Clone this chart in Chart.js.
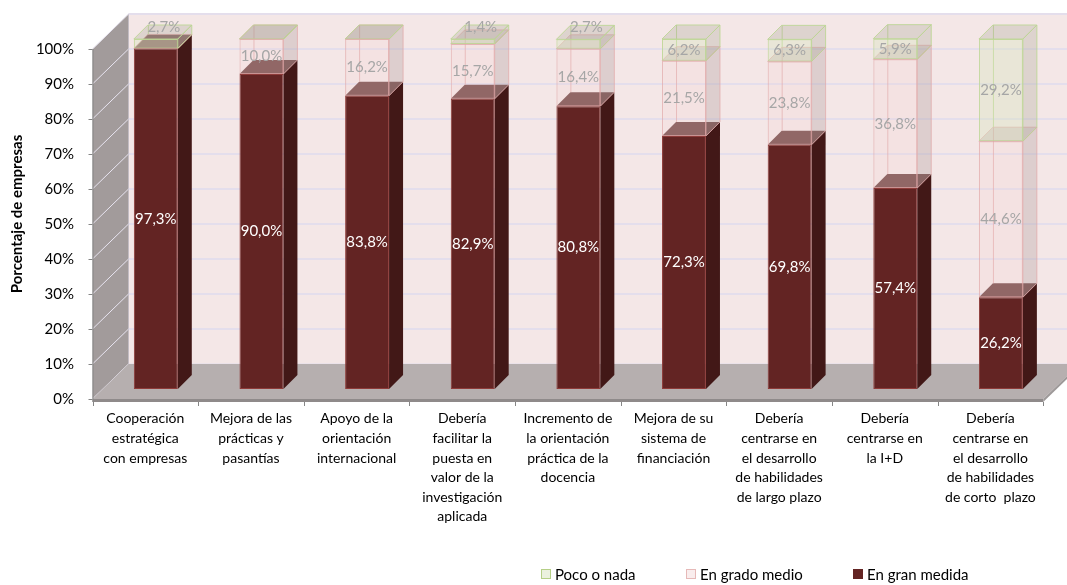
<!DOCTYPE html>
<html>
<head>
<meta charset="utf-8">
<script src="https://cdn.jsdelivr.net/npm/chart.js@4"></script>
<style>
  body { margin: 0; background: #fff; }
  #wrap { position: relative; width: 1067px; height: 585px; }
  #legend { position: absolute; left: 541px; top: 565px; display: flex; font: 15px Lato, sans-serif; color: #000; }
  #legend .item { display: flex; align-items: center; }
  #legend .box { width: 8px; height: 8px; margin-right: 4px; border: 1px solid; box-sizing: content-box; }
</style>
</head>
<body>
<div id="wrap">
  <canvas id="chart" width="1067" height="585"></canvas>
  <div id="legend"></div>
</div>
<script>
// categorías (etiquetas en varias líneas)
const categories = [
  ['Cooperación', 'estratégica', 'con empresas'],
  ['Mejora de las', 'prácticas y', 'pasantías'],
  ['Apoyo de la', 'orientación', 'internacional'],
  ['Debería', 'facilitar la', 'puesta en', 'valor de la', 'investigación', 'aplicada'],
  ['Incremento de', 'la orientación', 'práctica de la', 'docencia'],
  ['Mejora de su', 'sistema de', 'financiación'],
  ['Debería', 'centrarse en', 'el desarrollo', 'de habilidades', 'de largo plazo'],
  ['Debería', 'centrarse en', 'la I+D'],
  ['Debería', 'centrarse en', 'el desarrollo', 'de habilidades', 'de corto  plazo']
];

// series (%)
const granMedida = [97.3, 90.0, 83.8, 82.9, 80.8, 72.3, 69.8, 57.4, 26.2];
const gradoMedio = [0, 10.0, 16.2, 15.7, 16.4, 21.5, 23.8, 36.8, 44.6];
const pocoNada   = [2.7, 0, 0, 1.4, 2.7, 6.2, 6.3, 5.9, 29.2];

const yTicks = [0, 10, 20, 30, 40, 50, 60, 70, 80, 90, 100];

// perspectiva: plano frontal / plano del fondo respecto al plano de las barras
const FRONT = { dx: -10.5, dy: 10 };
const BACK = { dx: 25.5, dy: -25 };
const DEPTH = 14;

const seriesStyle = [
  { label: 'En gran medida', front: '#632423', border: '#8e3b39', side: '#421817', top: '#7c5150', text: '#ffffff', solid: true },
  { label: 'En grado medio', front: 'rgba(242,205,205,0.18)', border: 'rgba(226,170,170,0.75)', side: 'rgba(170,150,150,0.3)', top: 'rgba(170,150,150,0.3)', text: '#a6a6a6', solid: false },
  { label: 'Poco o nada', front: 'rgba(215,228,189,0.38)', border: 'rgba(190,214,150,0.9)', side: 'rgba(170,165,150,0.3)', top: 'rgba(170,165,150,0.3)', text: '#a6a6a6', solid: false }
];
const seriesData = [granMedida, gradoMedio, pocoNada];

function poly(ctx, pts, fill, stroke) {
  ctx.beginPath();
  ctx.moveTo(pts[0][0], pts[0][1]);
  for (let i = 1; i < pts.length; i++) ctx.lineTo(pts[i][0], pts[i][1]);
  ctx.closePath();
  if (fill) { ctx.fillStyle = fill; ctx.fill(); }
  if (stroke) { ctx.strokeStyle = stroke; ctx.lineWidth = 1; ctx.stroke(); }
}

// paredes, suelo y marcas de ejes
const frame3d = {
  id: 'frame3d',
  beforeDraw(chart) {
    const ctx = chart.ctx;
    const { left, right } = chart.chartArea;
    const y = chart.scales.y;
    const yF = v => y.getPixelForValue(v) + FRONT.dy;
    const yB = v => y.getPixelForValue(v) + BACK.dy;
    const xf0 = left + FRONT.dx, xf1 = right + FRONT.dx;
    const xb0 = left + BACK.dx, xb1 = right + BACK.dx;
    ctx.save();
    // pared del fondo
    poly(ctx, [[xb0, yB(100)], [xb1, yB(100)], [xb1, yB(0)], [xb0, yB(0)]], '#f4e7e7', '#e2dcea');
    ctx.strokeStyle = '#e4deec';
    ctx.lineWidth = 2;
    yTicks.forEach(v => {
      if (v === 0) return;
      ctx.beginPath(); ctx.moveTo(xb0, yB(v)); ctx.lineTo(xb1, yB(v)); ctx.stroke();
    });
    // pared izquierda
    poly(ctx, [[xf0, yF(100)], [xb0, yB(100)], [xb0, yB(0)], [xf0, yF(0)]], '#a29b9b');
    ctx.strokeStyle = '#e8e4f0';
    ctx.lineWidth = 1;
    yTicks.forEach(v => {
      ctx.beginPath(); ctx.moveTo(xf0, yF(v)); ctx.lineTo(xb0, yB(v)); ctx.stroke();
    });
    // suelo
    poly(ctx, [[xf0, yF(0)], [xf1, yF(0)], [xb1, yB(0)], [xb0, yB(0)]], '#b6afaf');
    poly(ctx, [[xf0, yF(0)], [xf1, yF(0)], [xf1, yF(0) + 3], [xf0, yF(0) + 3]], '#8f8a8a');
    poly(ctx, [[xf1, yF(0)], [xb1, yB(0)], [xb1, yB(0) + 3], [xf1, yF(0) + 3]], '#9e9999');
    // eje vertical y marcas
    ctx.strokeStyle = '#868686';
    ctx.lineWidth = 1;
    ctx.beginPath(); ctx.moveTo(xf0 + 0.5, yF(100)); ctx.lineTo(xf0 + 0.5, yF(0) + 3); ctx.stroke();
    yTicks.forEach(v => {
      const yy = Math.round(yF(v)) + 0.5;
      ctx.beginPath(); ctx.moveTo(xf0 - 4, yy); ctx.lineTo(xf0, yy); ctx.stroke();
    });
    // marcas del eje horizontal
    const cw = (right - left) / categories.length;
    for (let i = 0; i <= categories.length; i++) {
      const xx = Math.round(left + i * cw + FRONT.dx) + 0.5;
      ctx.beginPath(); ctx.moveTo(xx, yF(0) + 3); ctx.lineTo(xx, yF(0) + 7); ctx.stroke();
    }
    ctx.restore();
  },
  beforeDatasetsDraw(chart) {
    const ctx = chart.ctx;
    ctx.save();
    for (let i = 0; i < categories.length; i++) {
      chart.data.datasets.forEach((ds, d) => {
        const st = seriesStyle[d];
        const el = chart.getDatasetMeta(d).data[i];
        const l = el.x - el.width / 2, r = el.x + el.width / 2;
        const t = Math.min(el.y, el.base), b = Math.max(el.y, el.base);
        if (!st.solid && b > t) {
          ctx.strokeStyle = st.border;
          ctx.lineWidth = 1;
          ctx.beginPath();
          ctx.moveTo(l + DEPTH + 0.5, t - DEPTH); ctx.lineTo(l + DEPTH + 0.5, b - DEPTH);
          ctx.stroke();
        }
        poly(ctx, [[r, t], [r + DEPTH, t - DEPTH], [r + DEPTH, b - DEPTH], [r, b]], st.side, st.solid ? null : st.border);
        poly(ctx, [[l, t], [l + DEPTH, t - DEPTH], [r + DEPTH, t - DEPTH], [r, t]], st.top, st.solid ? null : st.border);
      });
    }
    ctx.restore();
  },
  afterDatasetsDraw(chart) {
    const ctx = chart.ctx;
    ctx.save();
    ctx.font = '15px Lato, sans-serif';
    ctx.textAlign = 'center';
    ctx.textBaseline = 'middle';
    chart.data.datasets.forEach((ds, d) => {
      const meta = chart.getDatasetMeta(d);
      ds.data.forEach((v, i) => {
        if (!v) return;
        const el = meta.data[i];
        const h = Math.abs(el.base - el.y);
        let lx = el.x, ly = (el.y + el.base) / 2;
        if (h < 16) { lx += 8; ly = Math.min(el.y, el.base) - 12; }
        ctx.fillStyle = seriesStyle[d].text;
        ctx.fillText(v.toFixed(1).replace('.', ',') + '%', lx, ly);
      });
    });
    ctx.restore();
  }
};

const datasets = seriesData.map((data, d) => ({
  label: seriesStyle[d].label,
  data: data,
  backgroundColor: seriesStyle[d].front,
  borderColor: seriesStyle[d].border,
  borderWidth: 1,
  borderSkipped: false,
  categoryPercentage: 1,
  barPercentage: 0.416
}));

const chart = new Chart(document.getElementById('chart'), {
  type: 'bar',
  data: { labels: categories, datasets: datasets },
  plugins: [frame3d],
  options: {
    responsive: false,
    animation: false,
    layout: { padding: { top: 39, right: 13, left: 0, bottom: 0 } },
    plugins: { legend: { display: false }, tooltip: { enabled: false } },
    scales: {
      x: {
        stacked: true,
        grid: { display: false, drawTicks: false },
        border: { display: false },
        ticks: {
          color: '#000',
          font: { family: 'Lato', size: 14, lineHeight: 1.4 },
          labelOffset: FRONT.dx,
          padding: 20,
          maxRotation: 0,
          autoSkip: false
        },
        afterFit: s => { s.height = 196; }
      },
      y: {
        stacked: true,
        min: 0,
        max: 100,
        grid: { display: false, drawTicks: false },
        border: { display: false },
        afterBuildTicks: s => { s.ticks = yTicks.map(v => ({ value: v })); },
        ticks: {
          color: '#000',
          font: { family: 'Lato', size: 15 },
          padding: 29,
          labelOffset: FRONT.dy,
          callback: v => v + '%'
        },
        title: {
          display: true,
          text: 'Porcentaje de empresas',
          color: '#000',
          font: { family: 'Lato', size: 15, weight: 'bold' },
          padding: { top: 8, bottom: 0 }
        },
        afterFit: s => { s.width = 103; }
      }
    }
  }
});

// leyenda (orden inverso, como en el original)
const legendBoxes = [
  { fill: '#ebf1de', border: '#b5cf87', width: 145 },
  { fill: '#f9eded', border: '#e6b9b8', width: 167 },
  { fill: '#632423', border: '#632423', width: 0 }
];
const legend = document.getElementById('legend');
[2, 1, 0].forEach((d, k) => {
  const it = document.createElement('div');
  it.className = 'item';
  if (legendBoxes[k].width) it.style.width = legendBoxes[k].width + 'px';
  const box = document.createElement('span');
  box.className = 'box';
  box.style.background = legendBoxes[k].fill;
  box.style.borderColor = legendBoxes[k].border;
  it.appendChild(box);
  it.appendChild(document.createTextNode(seriesStyle[d].label));
  legend.appendChild(it);
});
</script>
</body>
</html>
